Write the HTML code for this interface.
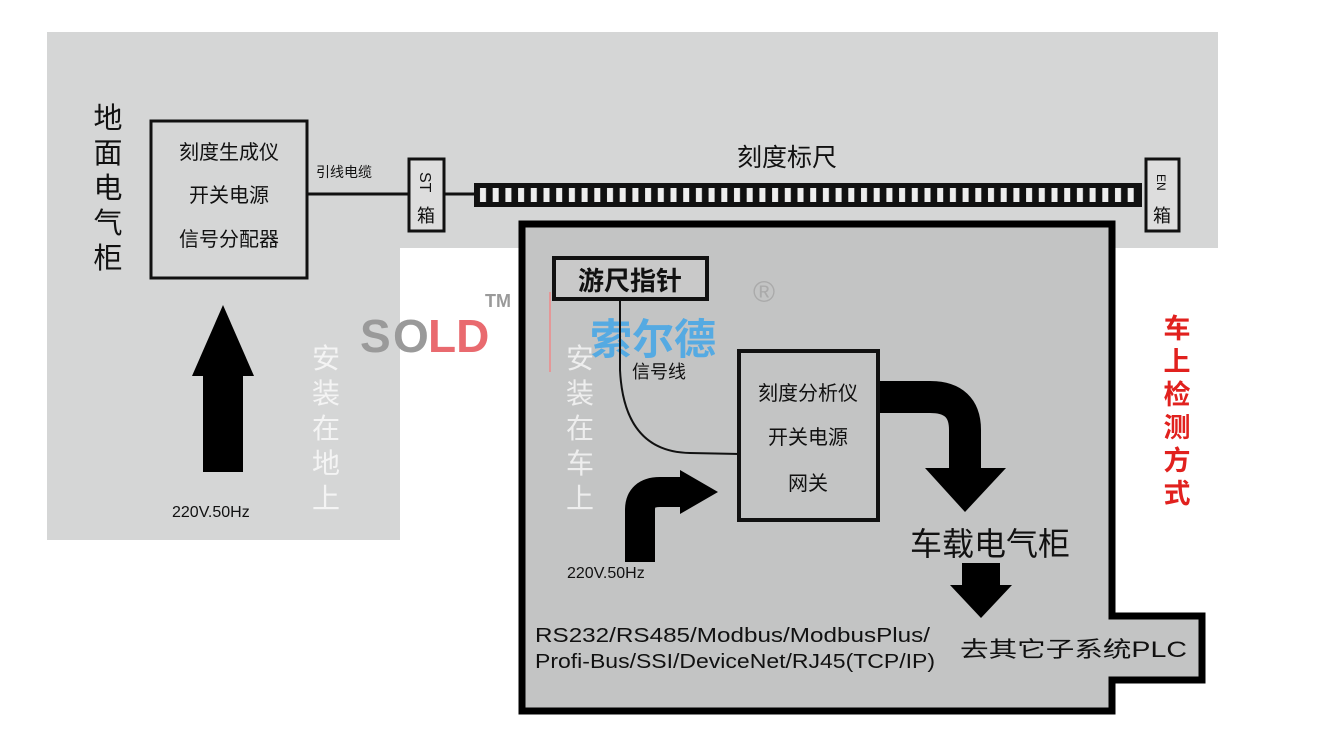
<!DOCTYPE html>
<html><head><meta charset="utf-8"><style>
body{margin:0;background:#fff;}
svg text{font-family:"Liberation Sans","Noto Sans CJK SC",sans-serif;}
</style></head><body>
<svg width="1320" height="746" viewBox="0 0 1320 746" xmlns="http://www.w3.org/2000/svg">
<defs><pattern id="tick" x="478" y="0" width="12.7" height="20" patternUnits="userSpaceOnUse"><rect x="2" y="0" width="6" height="20" fill="#eee"/></pattern></defs>
<rect width="1320" height="746" fill="#fff"/>
<path d="M47 32 H1218 V248 H400 V540 H47 Z" fill="#d5d6d6"/>
<path d="M522 224 H1112 V616 H1202 V680 H1112 V711 H522 Z" fill="#c3c4c4" stroke="#000" stroke-width="7"/>
<rect x="151" y="121" width="156" height="157" fill="none" stroke="#111" stroke-width="3"/>
<g font-size="20" fill="#111" text-anchor="middle">
<text x="229" y="159">刻度生成仪</text>
<text x="229" y="202">开关电源</text>
<text x="229" y="246">信号分配器</text>
</g>
<g font-size="29" fill="#111" text-anchor="middle">
<text x="108" y="128">地</text><text x="108" y="163">面</text><text x="108" y="198">电</text><text x="108" y="233">气</text><text x="108" y="268">柜</text>
</g>
<rect x="203" y="372" width="40" height="100" fill="#000"/>
<polygon points="192,376 254,376 223,305" fill="#000"/>
<text x="172" y="517" font-size="16" fill="#111">220V.50Hz</text>
<line x1="307" y1="194" x2="410" y2="194" stroke="#111" stroke-width="3"/>
<text x="316" y="177" font-size="14" fill="#111">引线电缆</text>
<rect x="409" y="159" width="35" height="72" fill="#ddd" stroke="#111" stroke-width="3"/>
<text transform="translate(420,172) rotate(90)" font-size="16" fill="#111" font-family="Liberation Serif">ST</text>
<text x="426" y="222" font-size="18" fill="#111" text-anchor="middle">箱</text>
<rect x="1146" y="159" width="33" height="72" fill="#ddd" stroke="#111" stroke-width="3"/>
<text transform="translate(1157,174) rotate(90)" font-size="12" fill="#111" font-family="Liberation Serif">EN</text>
<text x="1162" y="222" font-size="18" fill="#111" text-anchor="middle">箱</text>
<line x1="444" y1="194" x2="476" y2="194" stroke="#111" stroke-width="3"/>
<rect x="474" y="183" width="668" height="24" fill="#111"/>
<rect x="478" y="188" width="660" height="14" fill="url(#tick)"/>
<text x="787" y="166" font-size="25" fill="#111" text-anchor="middle">刻度标尺</text>
<g font-size="28" fill="#f4f4f4" text-anchor="middle">
<text x="326" y="368">安</text><text x="326" y="403">装</text><text x="326" y="438">在</text><text x="326" y="473">地</text><text x="326" y="508">上</text>
</g>
<text x="360" y="352" font-size="46" font-weight="bold" fill="#9a9a9a">S</text>
<text x="393" y="352" font-size="46" font-weight="bold" fill="#9a9a9a">O</text>
<text x="428" y="352" font-size="46" font-weight="bold" fill="#e96a6f">LD</text>
<text x="485" y="307" font-size="18" font-weight="bold" fill="#9a9a9a">TM</text>
<line x1="550" y1="292" x2="550" y2="372" stroke="#e88" stroke-width="1.5"/>
<rect x="554" y="258" width="153" height="41" fill="#c9c9c9" stroke="#111" stroke-width="4"/>
<text x="630" y="290" font-size="26" font-weight="bold" fill="#111" text-anchor="middle">游尺指针</text>
<text x="753" y="302" font-size="30" fill="#aaa">®</text>
<text x="590" y="354" font-size="42" font-weight="bold" fill="#4aa8e6" opacity="0.9">索尔德</text>
<g font-size="28" fill="#eee" text-anchor="middle">
<text x="580" y="368">安</text><text x="580" y="403">装</text><text x="580" y="438">在</text><text x="580" y="473">车</text><text x="580" y="508">上</text>
</g>
<text x="632" y="378" font-size="18" fill="#111">信号线</text>
<path d="M620 300 V370 Q624 452 690 453 L740 454" fill="none" stroke="#111" stroke-width="2"/>
<rect x="739" y="351" width="139" height="169" fill="none" stroke="#111" stroke-width="4"/>
<g font-size="20" fill="#111" text-anchor="middle">
<text x="808" y="400">刻度分析仪</text>
<text x="808" y="444">开关电源</text>
<text x="808" y="490">网关</text>
</g>
<path d="M640 562 V510 Q640 492 660 492 H684" fill="none" stroke="#000" stroke-width="30"/>
<polygon points="680,470 680,514 718,492" fill="#000"/>
<text x="567" y="578" font-size="16" fill="#111">220V.50Hz</text>
<path d="M880 397 H930 Q965 397 965 430 V470" fill="none" stroke="#000" stroke-width="32"/>
<polygon points="925,468 1006,468 965,512" fill="#000"/>
<text x="910" y="555" font-size="32" fill="#111">车载电气柜</text>
<rect x="962" y="563" width="38" height="24" fill="#000"/>
<polygon points="950,585 1012,585 981,618" fill="#000"/>
<g font-size="20" fill="#111">
<text x="535" y="642" textLength="395" lengthAdjust="spacingAndGlyphs">RS232/RS485/Modbus/ModbusPlus/</text>
<text x="535" y="668" textLength="400" lengthAdjust="spacingAndGlyphs">Profi-Bus/SSI/DeviceNet/RJ45(TCP/IP)</text>
</g>
<text x="960" y="657" font-size="22" fill="#111" textLength="227" lengthAdjust="spacingAndGlyphs">去其它子系统PLC</text>
<g font-size="27" font-weight="bold" fill="#e1211e" text-anchor="middle">
<text x="1177" y="338">车</text><text x="1177" y="371">上</text><text x="1177" y="404">检</text><text x="1177" y="437">测</text><text x="1177" y="470">方</text><text x="1177" y="503">式</text>
</g>
</svg>
</body></html>
